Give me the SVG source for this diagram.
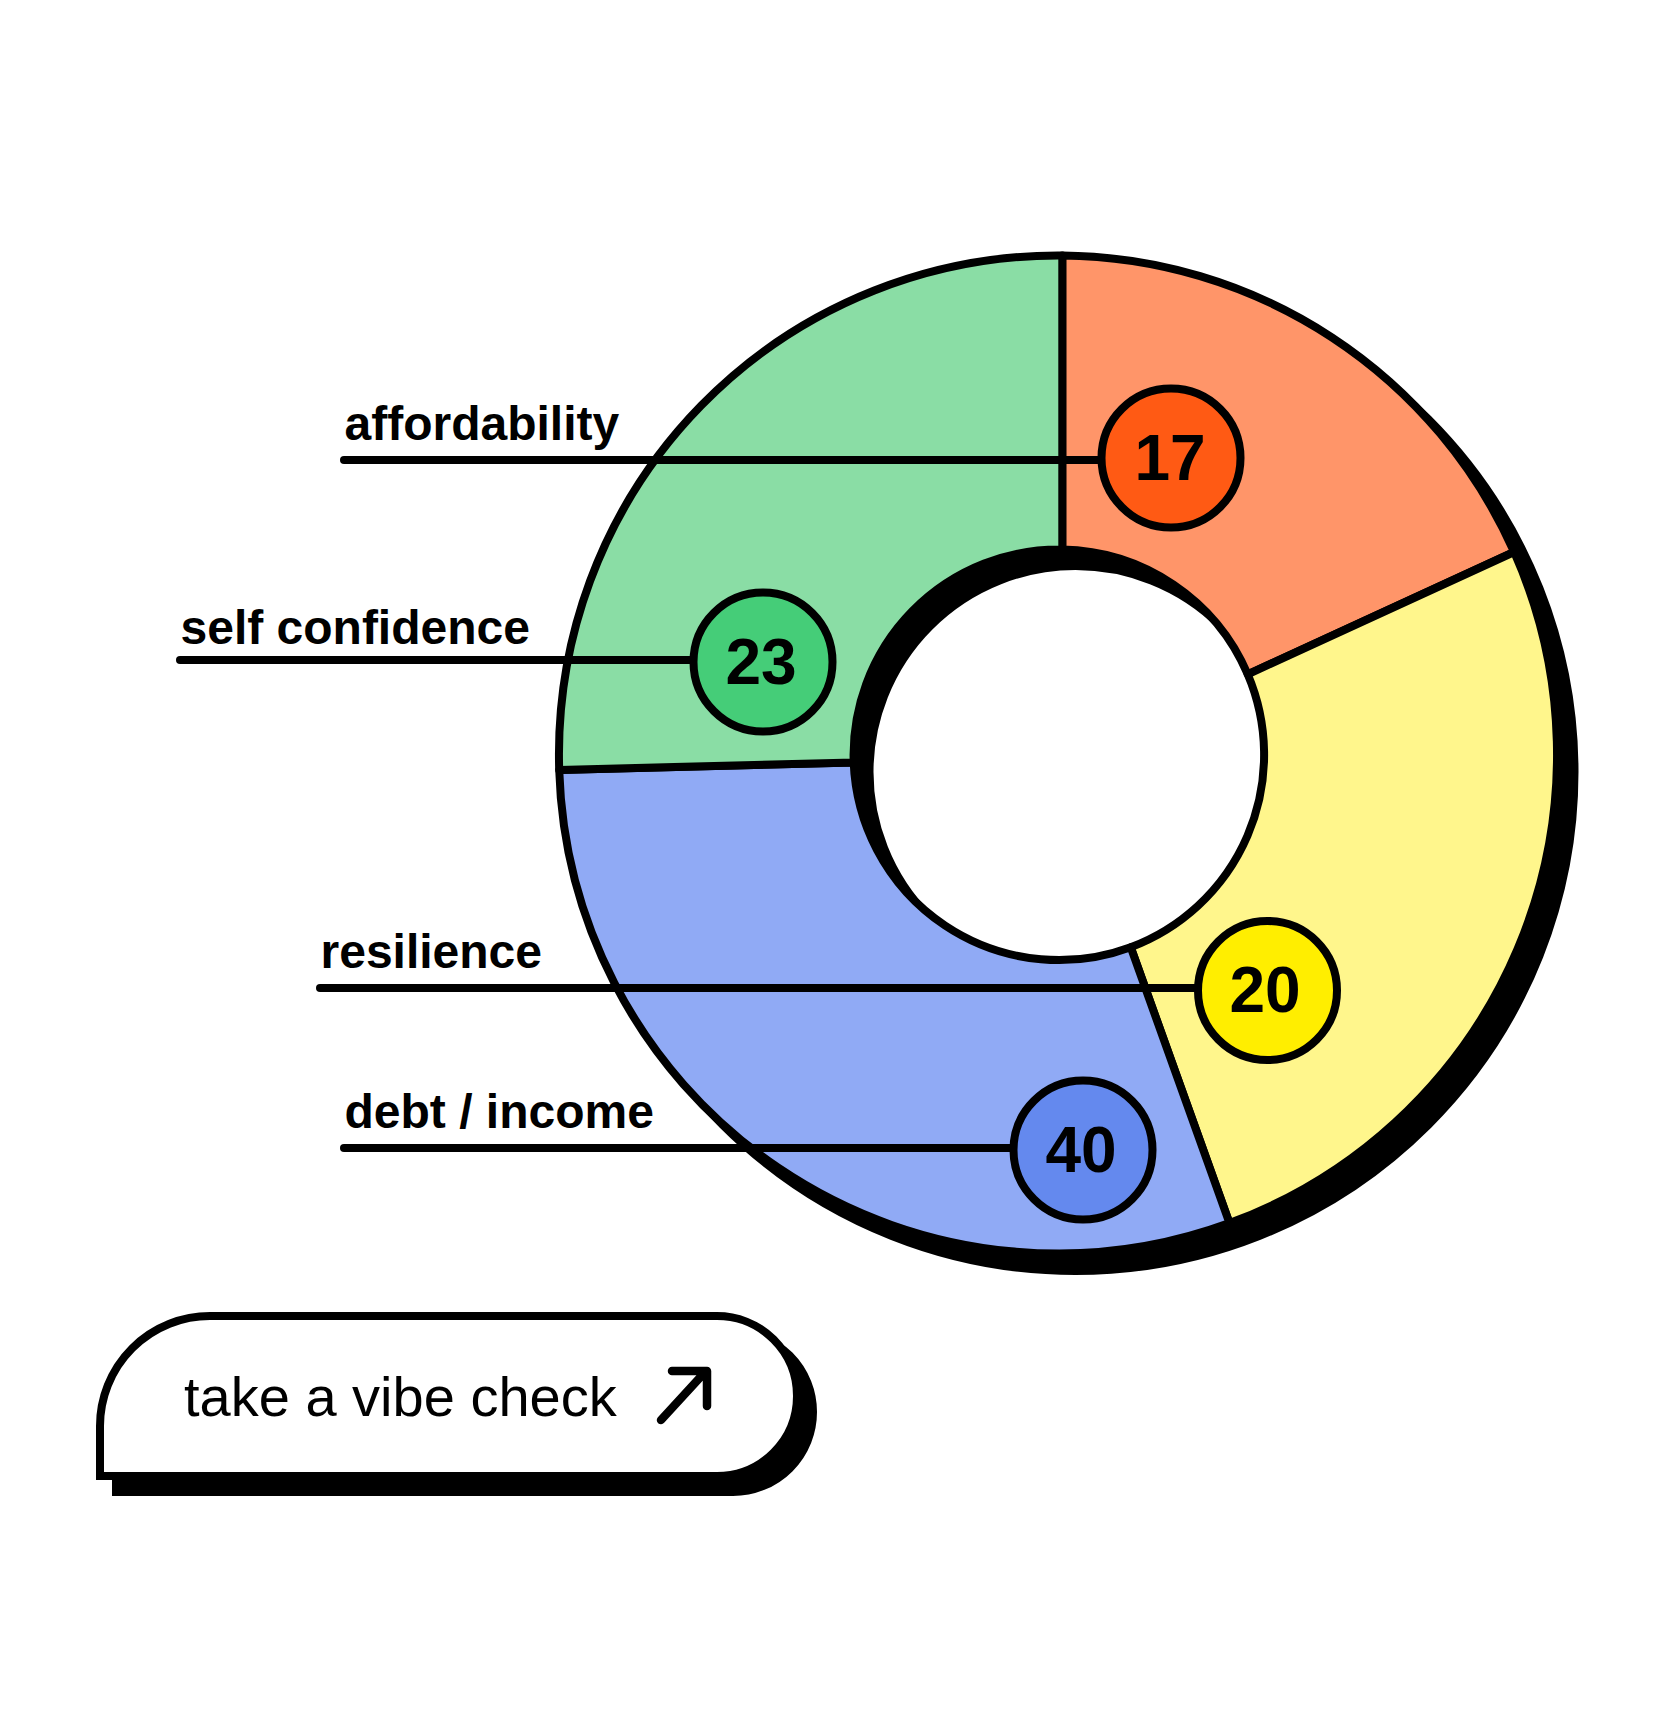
<svg xmlns="http://www.w3.org/2000/svg" width="1660" height="1732" viewBox="0 0 1660 1732">
<style>
.w{stroke:#000;stroke-width:8;stroke-linejoin:round}
.c{fill:none;stroke:#000;stroke-width:8;stroke-linecap:round}
.b{stroke:#000;stroke-width:8}
.l{font-family:"Liberation Sans",Arial,sans-serif;font-weight:700;font-size:48px;fill:#000}
.n{font-family:"Liberation Sans",Arial,sans-serif;font-weight:700;font-size:64px;fill:#000;text-anchor:middle}
</style>
<rect width="1660" height="1732" fill="#fff"/>
<g id="donut">
<circle cx="1075.5" cy="772" r="352.5" fill="none" stroke="#000" stroke-width="301"/>
<path id="seg-orange" class="w" fill="#FF9569" d="M1062.3 255.5A499 499 0 0 1 1514.1 552L1247.7 674.3A205.5 205.5 0 0 0 1062.3 549.5Z"/>
<path id="seg-yellow" class="w" fill="#FFF68C" d="M1514.1 552A499 499 0 0 1 1229.5 1223.1L1130.7 947.2A205.5 205.5 0 0 0 1247.7 674.3Z"/>
<path id="seg-blue" class="w" fill="#90AAF5" d="M1229.5 1223.1A499 499 0 0 1 559.2 769.9L853.7 762.4A205.5 205.5 0 0 0 1130.7 947.2Z"/>
<path id="seg-green" class="w" fill="#8ADDA5" d="M559.2 769.9A499 499 0 0 1 1062.3 255.5L1062.3 549.5A205.5 205.5 0 0 0 853.7 762.4Z"/>
</g>
<g id="connectors">
<path class="c" d="M344 460H1105"/>
<path class="c" d="M180 660H700"/>
<path class="c" d="M320 988H1205"/>
<path class="c" d="M344 1148H1020"/>
</g>
<g id="node-affordability">
<text class="l" x="344.5" y="440">affordability</text>
<circle class="b" fill="#FF5A14" cx="1171" cy="458" r="69.5"/>
<text class="n" x="1170" y="480">17</text>
</g>
<g id="node-self-confidence">
<text class="l" x="180.5" y="644">self confidence</text>
<circle class="b" fill="#45CD78" cx="763" cy="662" r="69.5"/>
<text class="n" x="761" y="684">23</text>
</g>
<g id="node-resilience">
<text class="l" x="320.5" y="968">resilience</text>
<circle class="b" fill="#FFEE00" cx="1267.5" cy="990.5" r="69.5"/>
<text class="n" x="1265" y="1012">20</text>
</g>
<g id="node-debt-income">
<text class="l" x="344.5" y="1128">debt / income</text>
<circle class="b" fill="#6489EE" cx="1083" cy="1150" r="69.5"/>
<text class="n" x="1081" y="1172">40</text>
</g>
<g id="button">
<path fill="#000" stroke="#000" stroke-width="8" transform="translate(16 16)" d="M100 1476V1426A110 110 0 0 1 210 1316H717A80 80 0 0 1 717 1476Z"/>
<path fill="#fff" stroke="#000" stroke-width="8" d="M100 1476V1426A110 110 0 0 1 210 1316H717A80 80 0 0 1 717 1476Z"/>
<text x="184" y="1416" font-family="'Liberation Sans',Arial,sans-serif" font-size="56">take a vibe check</text>
<path fill="none" stroke="#000" stroke-width="8.5" stroke-linecap="round" stroke-linejoin="round" d="M661 1420L706 1371M672 1371H707V1406"/>
</g>
</svg>
